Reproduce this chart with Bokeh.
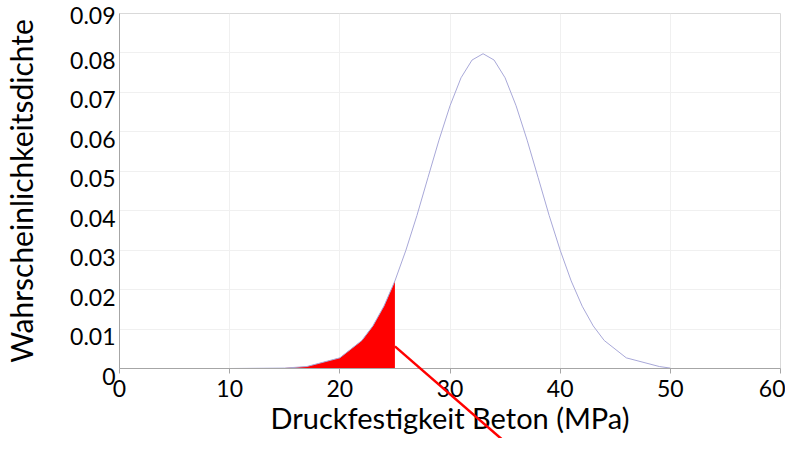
from bokeh.plotting import figure
from bokeh.models import Range1d, FixedTicker, CustomJSTickFormatter
from bokeh.embed import file_html
from bokeh.resources import INLINE

# Data
x_vals = [0, 5, 10, 15, 17, 20, 22, 23, 24, 25, 26, 27, 28, 29, 30, 31, 32, 33,
          34, 35, 36, 37, 38, 39, 40, 41, 42, 43, 44, 46, 49, 50]
density = [0.0, 0.0, 0.0, 0.0001, 0.0005, 0.0027, 0.0071, 0.0108, 0.0158, 0.0222,
           0.0300, 0.0388, 0.0484, 0.0579, 0.0666, 0.0737, 0.0782, 0.0798,
           0.0782, 0.0737, 0.0666, 0.0579, 0.0484, 0.0388, 0.0300, 0.0222,
           0.0158, 0.0108, 0.0071, 0.0027, 0.0005, 0.0001]
fill_start = 15
fill_limit = 25
x_ticks = [0, 10, 20, 30, 40, 50, 60]
y_ticks = [0, 0.01, 0.02, 0.03, 0.04, 0.05, 0.06, 0.07, 0.08, 0.09]
pointer_start = (25, 0.0056)
pointer_end = (36.3, -0.0218)

fill_x = [x for x in x_vals if fill_start <= x <= fill_limit]
fill_y = [y for x, y in zip(x_vals, density) if fill_start <= x <= fill_limit]

FONT = "Lato"

p = figure(width=785, height=438, output_backend="svg", toolbar_location=None,
           x_range=Range1d(0, 60), y_range=Range1d(0, 0.09),
           min_border_left=117, min_border_right=5, min_border_top=13,
           min_border_bottom=70)

p.background_fill_color = "white"
p.border_fill_color = "white"
p.outline_line_color = "#d9d9d9"
p.outline_line_width = 1

p.xgrid.grid_line_color = "#f0f0f0"
p.ygrid.grid_line_color = "#f0f0f0"

# red area under curve
p.varea(x=fill_x, y1=[0] * len(fill_x), y2=fill_y, fill_color="#ff0000", fill_alpha=1.0)

# curve
p.line(x=x_vals, y=density, line_color="#a8a8d8", line_width=1)

# red pointer line (runs out of the plot area)
p.segment(x0=[pointer_start[0]], y0=[pointer_start[1]],
          x1=[pointer_end[0]], y1=[pointer_end[1]],
          line_color="#ff0000", line_width=2.5, level="overlay")

p.xaxis.ticker = FixedTicker(ticks=x_ticks)
p.yaxis.ticker = FixedTicker(ticks=y_ticks)
p.ygrid.ticker = FixedTicker(ticks=y_ticks)
p.xgrid.ticker = FixedTicker(ticks=x_ticks)
# labels sit just below their grid line (the topmost one stays on one line)
p.yaxis.formatter = CustomJSTickFormatter(
    code="""
const s = tick === 0 ? '0' : tick.toFixed(2);
return tick > 0.0895 ? s : '\\n' + s;
""")

for ax in (p.xaxis[0], p.yaxis[0]):
    ax.axis_line_color = "#a6a6a6"
    ax.axis_line_width = 1
    ax.major_tick_line_color = "#a6a6a6"
    ax.minor_tick_line_color = None
    ax.major_label_text_font = FONT
    ax.major_label_text_font_size = "23px"
    ax.major_label_text_color = "black"
    ax.axis_label_text_font = FONT
    ax.axis_label_text_font_style = "normal"
    ax.axis_label_text_color = "black"

p.xaxis.axis_label = "Druckfestigkeit Beton (MPa)"
p.yaxis.axis_label = "Wahrscheinlichkeitsdichte"
p.xaxis.axis_label_text_font_size = "29px"
p.yaxis.axis_label_text_font_size = "30px"

p.xaxis.major_tick_out = 5
p.xaxis.major_tick_in = 0
p.xaxis.major_label_standoff = 6
p.xaxis.axis_label_standoff = 0

p.yaxis.major_tick_out = 0
p.yaxis.major_tick_in = 0
p.yaxis.major_label_standoff = 4
p.yaxis.major_label_text_line_height = 0.5
p.yaxis.axis_label_standoff = 28

open("out.html", "w").write(file_html(p, INLINE))
